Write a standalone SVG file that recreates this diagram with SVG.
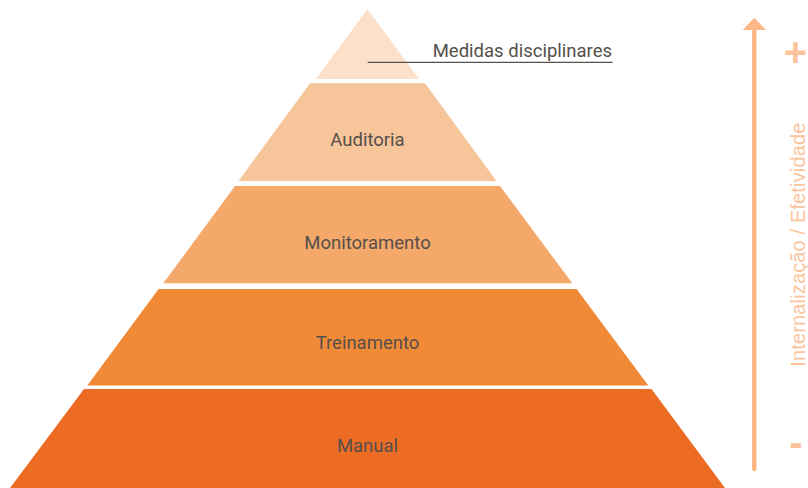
<svg xmlns="http://www.w3.org/2000/svg" width="808" height="488" viewBox="0 0 808 488">
  <defs>
    <style>
      .lbl { font-family: Roboto, "Liberation Sans", sans-serif; font-size: 18.5px; fill: #554f4b; text-anchor: middle; }
      .axis-txt { font-family: "Liberation Sans", Arial, sans-serif; fill: #fbc49c; }
      .axis { stroke: #fbb886; stroke-width: 4.5; fill: none; stroke-linecap: round; }
      .leader { stroke: #57514c; stroke-width: 1.3; fill: none; }
    </style>
  </defs>
  <rect width="808" height="488" fill="#ffffff"/>

  <g id="layer-medidas">
    <polygon points="367.5,9 419,79 316,79" fill="#fce0ca"/>
    <text class="lbl" x="612" y="57.3" style="text-anchor:end">Medidas disciplinares</text>
  </g>
  <g id="layer-auditoria">
    <polygon points="310,83.3 425,83.3 496.5,181 238.5,181" fill="#f7c59a"/>
    <text class="lbl" x="367.5" y="145.7">Auditoria</text>
  </g>
  <g id="layer-monitoramento">
    <polygon points="235,186 500,186 572.3,283.3 163.3,283.3" fill="#f4a86a"/>
    <text class="lbl" x="367.5" y="249.3">Monitoramento</text>
  </g>
  <g id="layer-treinamento">
    <polygon points="158.6,289 576.6,289 648.3,385.6 87.3,385.6" fill="#f08a37"/>
    <text class="lbl" x="367.5" y="349.3">Treinamento</text>
  </g>
  <g id="layer-manual">
    <polygon points="84,389 651.5,389 725,488 10,488" fill="#ed6c23"/>
    <text class="lbl" x="367.5" y="451.7">Manual</text>
  </g>

  <g id="connectors">
    <line class="leader" x1="367.7" y1="62.3" x2="612.7" y2="62.3"/>
  </g>

  <g id="axis">
    <line class="axis" x1="754.3" y1="29" x2="754.3" y2="469"/>
    <polygon points="754.3,17.7 766,30 742.6,30" fill="#fbb886"/>
    <text class="axis-txt" x="795.5" y="66" font-size="40" font-weight="bold" text-anchor="middle">+</text>
    <text class="axis-txt" x="796" y="456" font-size="40" font-weight="bold" text-anchor="middle">-</text>
    <text class="axis-txt" font-size="20" transform="translate(805,366.7) rotate(-90)" textLength="244">Internalização / Efetividade</text>
  </g>
</svg>
